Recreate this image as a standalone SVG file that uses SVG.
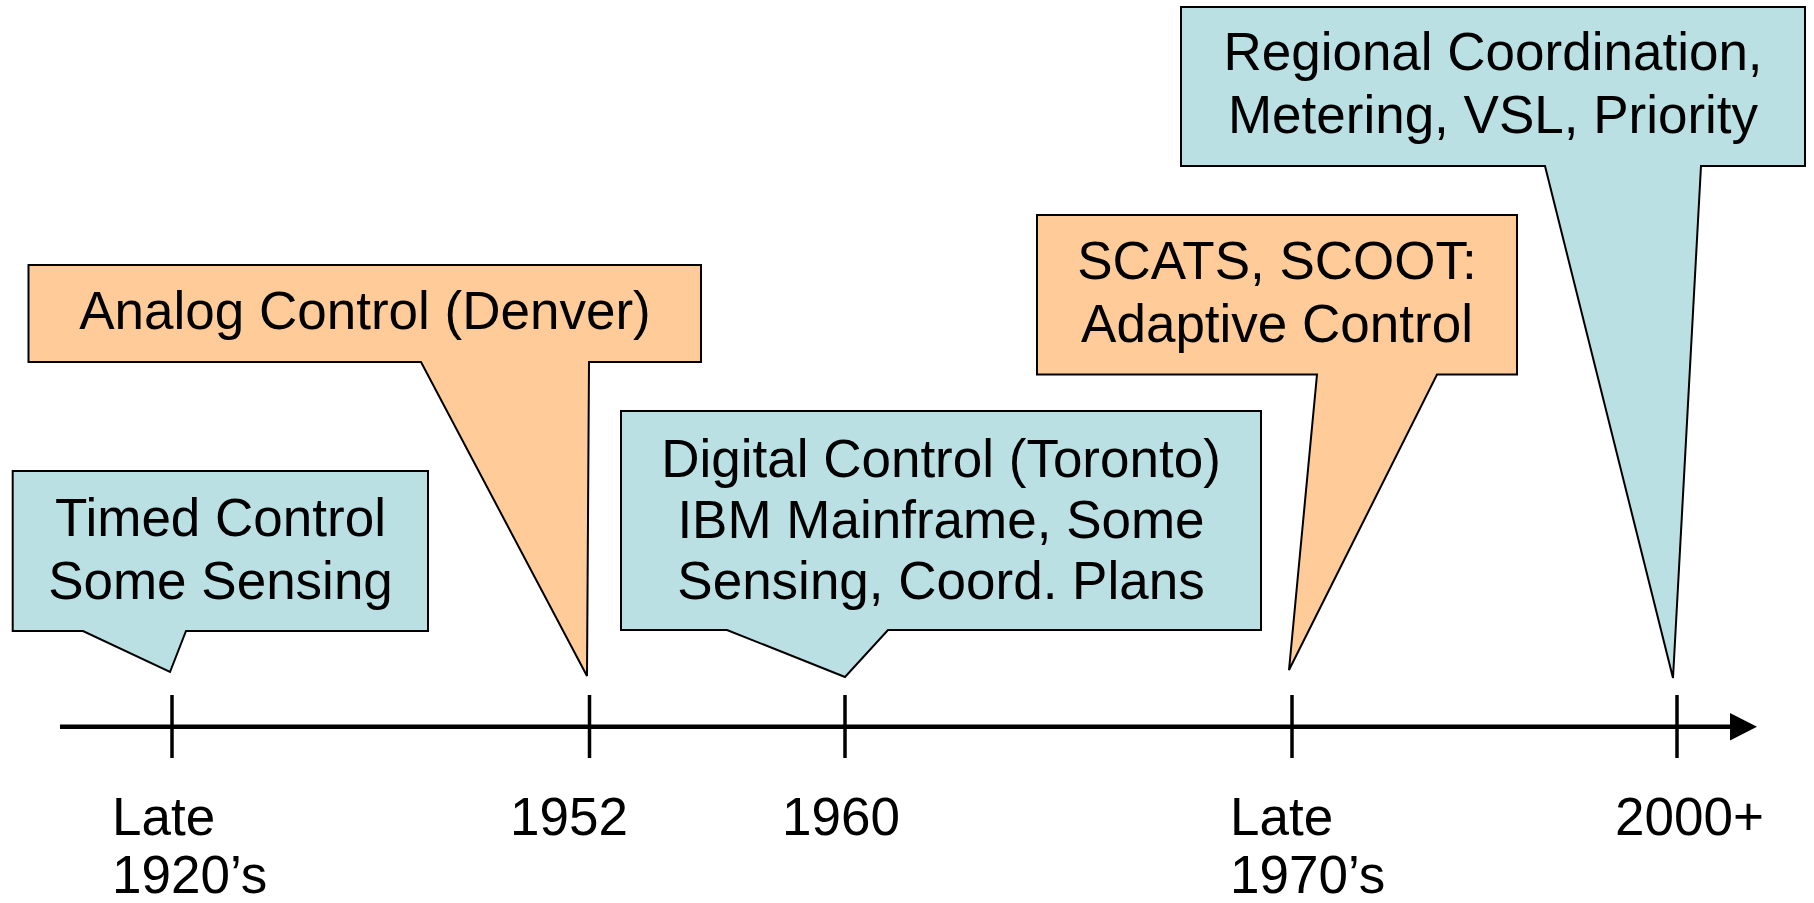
<svg xmlns="http://www.w3.org/2000/svg" width="1814" height="903" viewBox="0 0 1814 903">
<style>
.blue{fill:#BBE0E3;stroke:#000;stroke-width:2;stroke-linejoin:miter}
.orange{fill:#FFCC99;stroke:#000;stroke-width:2;stroke-linejoin:miter}
text{font-family:"Liberation Sans",Arial,sans-serif;font-size:53px;fill:#000}
.c{text-anchor:middle}
.axis{stroke:#000;stroke-width:4.5;fill:none}
.tick{stroke:#000;stroke-width:3.5}
</style>
<rect width="1814" height="903" fill="#fff"/>
<g id="timeline">
<line class="axis" x1="60" y1="726.7" x2="1735" y2="726.7"/>
<polygon points="1730,713 1757,726.7 1730,740.5" fill="#000"/>
<line class="tick" x1="172" y1="695" x2="172" y2="758"/>
<line class="tick" x1="589.5" y1="695" x2="589.5" y2="758"/>
<line class="tick" x1="845" y1="695" x2="845" y2="758"/>
<line class="tick" x1="1292" y1="695" x2="1292" y2="758"/>
<line class="tick" x1="1677" y1="695" x2="1677" y2="758"/>
</g>
<g id="labels">
<text x="112" y="835">Late</text>
<text x="112" y="893">1920’s</text>
<text x="510" y="835">1952</text>
<text x="782" y="835">1960</text>
<text x="1230" y="835">Late</text>
<text x="1230" y="893">1970’s</text>
<text x="1615" y="835">2000+</text>
</g>
<g id="timed">
<path class="blue" d="M12.7,471 H428 V631 H186 L170,672 L83,631 H12.7 Z"/>
<text class="c" x="220.5" y="536">Timed Control</text>
<text class="c" x="220.5" y="599">Some Sensing</text>
</g>
<g id="analog">
<path class="orange" d="M28.5,265 H701 V362 H589 L587,676 L421,362 H28.5 Z"/>
<text class="c" x="365" y="329">Analog Control (Denver)</text>
</g>
<g id="digital">
<path class="blue" d="M621,411 H1261 V630 H888 L845,677 L727,630 H621 Z"/>
<text class="c" x="941" y="477">Digital Control (Toronto)</text>
<text class="c" x="941" y="538">IBM Mainframe, Some</text>
<text class="c" x="941" y="599">Sensing, Coord. Plans</text>
</g>
<g id="scats">
<path class="orange" d="M1037,215 H1517 V374.5 H1437 L1289,670 L1317,374.5 H1037 Z"/>
<text class="c" x="1277" y="279">SCATS, SCOOT:</text>
<text class="c" x="1277" y="342">Adaptive Control</text>
</g>
<g id="regional">
<path class="blue" d="M1181,7 H1805 V166 H1701 L1673,678 L1545,166 H1181 Z"/>
<text class="c" x="1493" y="70">Regional Coordination,</text>
<text class="c" x="1493" y="133">Metering, VSL, Priority</text>
</g>
</svg>
